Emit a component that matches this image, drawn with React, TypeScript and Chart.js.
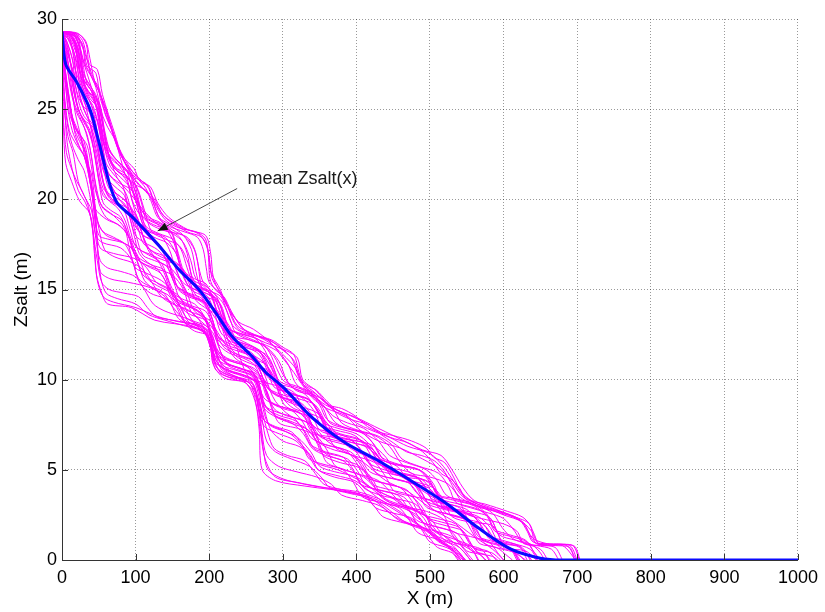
import React, { useEffect, useRef } from 'react';
import { Chart, registerables } from 'chart.js';

Chart.register(...registerables);

// ---- data ----
const xTickValues = [0, 100, 200, 300, 400, 500, 600, 700, 800, 900, 1000];
const yTickValues = [0, 5, 10, 15, 20, 25, 30];

const meanX = [0, 5, 20, 38, 50, 65, 75, 96, 128, 159, 186, 209, 231, 258, 277, 300, 340, 385, 430, 474, 520, 565, 610, 650, 680, 1000];
const meanZ = [29.3, 27.5, 26.5, 25, 23.2, 20.8, 19.8, 19, 17.6, 16.1, 15, 13.7, 12.4, 11.3, 10.4, 9.6, 7.9, 6.5, 5.5, 4.4, 3.2, 1.8, 0.6, 0.1, 0, 0];

const realizations: number[][][] = [
  [[0,29.3],[22,29.2],[33,28.6],[37,27.5],[48,27.2],[55,25.8],[72,23.6],[82,22.4],[98,21.7],[106,21],[120,20.7],[130,19.8],[145,19.0],[172,18.3],[195,18.0],[202,17.0],[206,15.6],[220,14.4],[232,13.6],[247,12.8],[268,12.2],[305,11.6],[320,11.2],[327,10.0],[345,9.4],[365,8.5],[400,7.9],[425,7.4],[455,6.8],[490,6.1],[515,5.8],[530,5.0],[545,4.0],[560,3.3],[590,2.8],[615,2.4],[635,2.0],[645,0.9],[695,0.8],[704,0]],
  [[0,27.0],[2,24],[5,22.0],[13,21.0],[24,19.9],[38,19.2],[44,17.5],[47,15.8],[54,14.8],[62,14.2],[94,14.0],[126,13.3],[180,12.9],[200,12.3],[205,10.9],[220,10.1],[250,9.8],[263,8.7],[268,7.2],[272,5.0],[290,4.4],[330,4.1],[400,3.7],[430,3.3],[474,2.2],[520,0.9],[540,0]],
  [[0,29.3],[15,29.2],[28,28.6],[34,27.4],[46,27.0],[52,25.6],[66,24.0],[78,22.6],[92,21.6],[104,20.8],[124,20.1],[138,19.1],[165,18.4],[185,18.1],[196,17.5],[200,16.8],[204,15.6],[216,14.8],[226,14.0],[238,13.0],[255,12.6],[280,12.1],[300,11.4],[318,10.6],[325,9.9],[340,9.2],[358,8.6],[380,8.2],[400,7.6],[420,7.2],[445,6.8],[470,6.3],[500,5.9],[518,5.2],[530,4.5],[545,3.6],[565,3.1],[595,2.7],[620,2.3],[638,1.6],[648,0.9],[680,0.8],[698,0]],
  [[0,29.3],[18,29.0],[30,27.5],[45,25.5],[60,23.0],[75,21.2],[95,20.2],[115,19.2],[140,18.3],[170,17.9],[182,17.0],[190,15.0],[200,14.1],[220,13.4],[232,12.6],[242,11.2],[255,10.1],[280,9.8],[315,9.3],[328,8.2],[340,7.1],[370,6.8],[410,6.5],[425,5.8],[440,5.0],[470,4.7],[500,4.3],[510,3.6],[520,3.0],[550,2.7],[580,2.4],[592,1.5],[602,0.7],[630,0.5],[645,0]],
  [[0,27.5],[4,25.5],[10,23.8],[20,23.0],[30,22.4],[38,21.0],[45,19.5],[60,18.9],[80,18.5],[95,17.6],[105,16.6],[125,16.2],[150,15.8],[165,15.0],[175,13.8],[190,13.2],[205,12.6],[215,11.6],[225,10.8],[250,10.4],[270,10.0],[280,9.0],[290,8.0],[310,7.6],[335,7.2],[350,6.3],[360,5.4],[385,5.0],[410,4.6],[430,3.8],[445,3.2],[475,2.8],[500,2.3],[515,1.5],[530,1.0],[555,0.7],[565,0]],
  [[0,29.2],[10,28.8],[20,27.6],[25,26.0],[35,25.0],[48,24.4],[55,23.0],[62,21.3],[72,20.4],[90,19.8],[105,18.6],[115,17.4],[135,16.8],[155,16.5],[170,15.8],[180,14.8],[195,14.2],[212,13.8],[222,12.6],[232,11.6],[250,11.2],[275,10.9],[290,10.0],[300,9.0],[315,8.4],[345,8.0],[365,7.4],[380,6.6],[400,6.0],[430,5.6],[455,5.2],[470,4.4],[485,3.6],[510,3.2],[540,2.9],[555,2.0],[565,1.2],[590,0.9],[610,0.6],[620,0]],
  [[0,28.4],[5,27.0],[12,25.0],[18,23.6],[25,22.8],[35,22.0],[42,20.0],[46,18.4],[52,17.3],[70,17.0],[100,16.7],[115,16.2],[128,15.4],[145,15.0],[160,14.6],[172,13.6],[185,12.9],[200,12.5],[210,11.5],[220,10.6],[245,10.2],[265,9.8],[272,8.6],[280,7.6],[300,7.2],[320,6.8],[338,6.0],[350,5.2],[370,4.9],[400,4.6],[420,4.0],[440,3.3],[460,3.0],[490,2.6],[505,1.8],[520,1.1],[540,0.7],[555,0]],
  [[0,28.0],[3,26],[6,23.5],[12,22.0],[22,20.5],[32,19.8],[40,18.8],[44,17.0],[48,15.5],[56,14.6],[70,14.3],[100,14.0],[130,13.5],[160,13.2],[185,13.0],[200,12.2],[210,11.0],[225,10.4],[245,10.0],[262,9.2],[270,8.0],[285,7.4],[310,7.0],[330,6.2],[345,5.4],[375,5.0],[400,4.5],[425,3.9],[450,3.4],[475,2.6],[500,1.8],[525,1.2],[545,0.5],[555,0]],
  [[0,29.0],[6,28.2],[12,26.5],[18,24.8],[26,23.4],[32,22.2],[40,21.4],[45,19.6],[48,17.6],[52,16.0],[65,15.6],[90,15.4],[120,15.1],[140,14.6],[155,13.8],[170,13.2],[190,13.0],[205,12.4],[212,11.2],[228,10.5],[255,10.1],[275,9.6],[285,8.5],[295,7.6],[320,7.3],[345,6.9],[360,6.1],[372,5.2],[400,4.8],[430,4.4],[450,3.6],[465,3.0],[495,2.7],[520,2.2],[530,1.4],[545,0.9],[570,0.6],[580,0]],
  [[0,29.3],[8,28.6],[18,27.2],[30,25.8],[42,24.2],[52,22.8],[62,21.2],[78,20.0],[95,19.2],[110,18.3],[128,17.5],[145,16.8],[160,16.0],[175,15.4],[190,14.6],[202,13.8],[215,13.0],[228,12.3],[245,11.6],[262,11.0],[278,10.2],[295,9.6],[310,8.8],[330,8.1],[350,7.5],[370,6.8],[395,6.2],[420,5.6],[445,5.0],[470,4.4],[495,3.7],[520,3.1],[545,2.4],[570,1.7],[592,1.0],[612,0.5],[630,0]],
  [[0,29.3],[20,29.1],[26,28.0],[30,26.4],[38,25.6],[50,25.0],[58,23.6],[66,22.0],[80,21.4],[100,20.8],[112,19.4],[122,18.2],[140,17.8],[160,17.4],[172,16.4],[180,15.2],[195,14.8],[212,14.4],[222,13.2],[230,12.2],[248,11.8],[270,11.5],[285,10.6],[295,9.6],[310,9.2],[335,8.9],[350,8.0],[362,7.0],[385,6.7],[420,6.4],[440,5.7],[455,4.8],[475,4.4],[505,4.0],[520,3.2],[530,2.4],[555,2.1],[585,1.9],[598,1.0],[610,0.5],[635,0.3],[645,0]],
  [[0,29.3],[12,29.0],[22,28.2],[28,27.0],[40,26.2],[50,25.2],[56,24.0],[64,22.4],[74,21.6],[90,21.2],[100,20.0],[108,18.8],[118,18.2],[140,17.9],[155,17.0],[165,15.8],[175,15.0],[195,14.6],[215,14.2],[225,13.0],[235,12.4],[255,12.2],[278,11.8],[295,11.0],[305,10.0],[318,9.4],[340,9.1],[358,8.4],[372,7.6],[395,7.2],[425,6.9],[445,6.3],[460,5.4],[475,4.8],[500,4.6],[525,4.2],[540,3.4],[548,2.6],[570,2.3],[600,2.0],[618,1.6],[628,0.9],[650,0.8],[670,0.7],[680,0]],
  [[0,26.8],[3,25.0],[8,23.5],[15,22.6],[22,21.0],[30,20.2],[40,19.4],[46,18.0],[55,17.6],[80,17.3],[95,16.6],[105,15.4],[120,14.8],[140,14.5],[158,14.0],[168,13.1],[180,12.7],[200,12.4],[206,11.2],[215,10.4],[235,10.0],[255,9.8],[264,8.6],[270,7.0],[276,5.6],[290,4.6],[320,4.3],[360,4.0],[400,3.8],[430,3.4],[455,2.8],[480,2.1],[505,1.4],[525,0.8],[542,0]],
  [[0,29.3],[5,28.0],[15,26.5],[22,25.0],[30,24.4],[42,24.0],[50,22.6],[56,21.0],[68,20.0],[85,19.6],[100,19.2],[110,18.0],[120,17.0],[140,16.6],[160,16.3],[172,15.4],[182,14.4],[198,13.9],[210,13.6],[218,12.8],[226,11.8],[240,11.2],[262,10.8],[280,10.5],[292,9.6],[302,8.6],[320,8.2],[345,7.8],[360,7.0],[372,6.2],[395,5.8],[425,5.4],[440,4.6],[452,3.8],[480,3.5],[505,3.2],[520,2.4],[530,1.6],[555,1.3],[580,1.0],[592,0.4],[600,0]],
  [[0,29.3],[16,29.2],[24,28.4],[28,27.0],[34,26.0],[44,25.4],[52,24.4],[58,23.0],[68,22.2],[84,21.7],[98,21.0],[108,19.8],[115,18.8],[130,18.4],[150,18.1],[165,17.6],[175,16.6],[182,15.6],[198,15.1],[210,14.6],[220,13.6],[228,12.8],[248,12.4],[270,12.0],[288,11.3],[300,10.3],[312,9.6],[330,9.3],[350,8.8],[368,8.0],[388,7.6],[410,7.3],[430,6.6],[445,5.8],[468,5.4],[495,5.0],[510,4.4],[522,3.6],[540,3.3],[565,3.0],[585,2.6],[598,1.8],[612,1.2],[630,0.9],[650,0.6],[660,0]],
  [[0,28.2],[4,27.0],[10,25.4],[16,24.2],[24,23.6],[34,23.0],[40,21.8],[46,20.4],[55,19.6],[70,19.1],[85,18.4],[92,17.2],[100,16.2],[115,15.9],[135,15.5],[150,14.9],[162,14.0],[175,13.6],[195,13.3],[208,12.6],[215,11.6],[225,10.9],[245,10.6],[265,10.3],[278,9.4],[288,8.4],[305,8.0],[330,7.7],[345,7.0],[355,6.0],[375,5.6],[400,5.3],[420,4.6],[432,3.8],[455,3.4],[480,3.1],[495,2.4],[505,1.6],[530,1.2],[555,0.8],[568,0.3],[575,0]],
  [[0,29.3],[20,29.2],[32,28.8],[38,27.8],[44,26.6],[54,25.6],[64,24.4],[74,23.2],[86,22.0],[100,21.2],[116,20.8],[128,19.6],[142,18.8],[160,18.4],[182,18.2],[195,17.8],[199,16.8],[201,15.6],[208,15.0],[220,14.6],[230,13.8],[244,12.9],[262,12.5],[285,12.2],[300,11.8],[315,11.4],[322,10.4],[330,9.6],[345,9.2],[362,8.6],[380,8.4],[398,8.0],[415,7.4],[430,7.1],[450,6.9],[475,6.6],[495,6.2],[505,5.7],[520,5.4],[532,4.6],[542,3.8],[556,3.3],[575,3.1],[605,2.7],[625,2.4],[635,2.0],[642,1.4],[648,0.9],[672,0.85],[694,0.8],[703,0]],
  [[0,29.3],[10,29.2],[18,28.6],[22,27.4],[30,26.6],[40,26.0],[48,24.8],[54,23.4],[62,22.6],[75,22.0],[88,21.2],[95,20.0],[105,19.2],[120,18.8],[140,18.4],[152,17.6],[160,16.4],[170,15.6],[185,15.2],[200,14.8],[210,13.8],[218,12.8],[232,12.4],[252,12.0],[268,11.6],[280,10.6],[292,9.8],[310,9.6],[330,9.2],[345,8.4],[356,7.6],[375,7.3],[400,7.0],[418,6.4],[432,5.6],[455,5.3],[485,5.0],[500,4.3],[512,3.6],[535,3.4],[560,3.1],[578,2.5],[588,1.7],[608,1.4],[630,1.1],[640,0.5],[650,0]],
  [[0,29.2],[6,28.4],[14,27.2],[20,26.0],[28,25.2],[38,24.8],[46,23.6],[52,22.2],[60,21.2],[72,20.7],[85,20.2],[92,19.0],[100,18.0],[112,17.6],[130,17.2],[145,16.4],[152,15.4],[165,14.9],[180,14.6],[196,14.2],[205,13.2],[212,12.2],[225,11.8],[245,11.5],[262,11.2],[272,10.2],[282,9.4],[300,9.0],[320,8.6],[335,7.8],[345,7.0],[365,6.7],[390,6.4],[405,5.7],[418,4.9],[440,4.6],[470,4.3],[485,3.6],[496,2.9],[520,2.6],[545,2.3],[558,1.5],[568,0.9],[590,0.7],[606,0.2],[612,0]],
  [[0,29.3],[12,29.1],[20,28.2],[26,26.8],[35,26.0],[46,25.6],[52,24.4],[58,22.8],[66,21.8],[80,21.2],[94,20.6],[104,19.4],[112,18.4],[125,17.9],[142,17.6],[155,17.0],[162,16.0],[172,15.2],[188,14.9],[205,14.6],[216,13.6],[225,12.6],[240,12.1],[260,11.8],[275,11.2],[284,10.2],[295,9.5],[315,9.2],[338,8.8],[352,8.0],[362,7.2],[382,6.9],[408,6.6],[425,6.0],[438,5.2],[460,4.8],[488,4.5],[502,3.8],[512,3.0],[535,2.7],[560,2.4],[576,1.8],[586,1.1],[605,0.9],[625,0.7],[636,0]],
  [[0,27.8],[5,26.2],[10,24.8],[17,24.0],[26,23.4],[33,22.4],[38,21.0],[44,19.8],[50,18.4],[58,17.2],[72,16.8],[95,16.5],[110,16.1],[122,15.4],[135,14.6],[150,14.2],[170,13.9],[185,13.4],[195,12.6],[204,11.6],[215,11.0],[235,10.7],[255,10.4],[268,9.6],[276,8.6],[290,8.0],[310,7.7],[332,7.3],[345,6.6],[355,5.8],[378,5.4],[405,5.1],[420,4.4],[432,3.6],[450,3.2],[475,2.9],[492,2.3],[503,1.5],[522,1.1],[545,0.8],[560,0.4],[566,0]],
  [[0,29.3],[8,28.9],[16,28.0],[20,26.6],[26,25.4],[34,24.6],[42,24.1],[50,23.0],[57,21.6],[64,20.6],[78,20.2],[92,19.6],[102,18.6],[110,17.6],[124,17.1],[140,16.8],[150,16.0],[158,15.0],[172,14.6],[190,14.3],[202,13.6],[210,12.6],[220,11.8],[238,11.4],[258,11.1],[270,10.4],[278,9.6],[292,9.1],[315,8.8],[330,8.3],[340,7.5],[352,6.8],[375,6.5],[400,6.2],[415,5.6],[428,4.8],[450,4.5],[478,4.2],[492,3.5],[504,2.8],[528,2.5],[552,2.2],[565,1.5],[575,0.9],[598,0.6],[615,0.4],[622,0]],
  [[0,28.6],[4,27.2],[10,25.6],[15,24.4],[22,23.6],[30,22.8],[36,21.6],[42,20.4],[46,18.8],[49,17.0],[53,15.6],[60,14.8],[75,14.5],[100,14.2],[118,13.6],[140,13.3],[165,13.0],[190,12.7],[202,12.0],[208,10.8],[222,10.3],[248,10.0],[262,9.4],[268,8.2],[275,7.4],[295,7.0],[318,6.6],[335,5.8],[348,5.0],[372,4.7],[398,4.4],[418,3.8],[438,3.2],[462,2.9],[485,2.4],[498,1.6],[515,1.0],[535,0.6],[548,0]],
  [[0,29.3],[14,29.0],[22,28.0],[26,26.6],[32,25.8],[42,25.2],[50,24.0],[56,22.4],[64,21.4],[78,20.9],[95,20.5],[105,19.6],[112,18.6],[122,17.9],[138,17.2],[150,16.6],[160,15.6],[170,14.8],[188,14.4],[206,14.0],[216,13.2],[226,12.2],[242,11.6],[262,11.3],[278,10.8],[290,9.8],[298,9.0],[318,8.6],[345,8.2],[360,7.6],[372,6.8],[395,6.5],[420,6.2],[436,5.4],[448,4.6],[470,4.3],[498,4.0],[512,3.3],[522,2.6],[545,2.3],[572,2.0],[585,1.3],[595,0.7],[615,0.5],[628,0]],
  [[0,29.3],[10,29.0],[16,27.8],[22,26.2],[30,25.0],[40,24.0],[48,22.8],[55,21.2],[62,20.2],[75,19.7],[90,19.2],[98,18.0],[105,17.0],[120,16.4],[138,16.1],[148,15.2],[158,14.4],[175,14.0],[192,13.6],[200,12.8],[206,11.8],[218,11.2],[240,10.9],[262,10.6],[274,9.8],[282,8.8],[300,8.4],[325,8.1],[340,7.4],[350,6.5],[370,6.1],[395,5.8],[410,5.0],[422,4.2],[445,3.9],[472,3.6],[488,3.0],[500,2.2],[522,1.9],[545,1.6],[556,0.9],[565,0.4],[585,0.2],[592,0]],
  [[0,29.3],[18,29.2],[28,28.8],[34,27.8],[40,26.8],[50,26.0],[60,25.0],[68,23.8],[78,22.6],[90,21.8],[104,21.2],[118,20.6],[126,19.6],[135,18.8],[150,18.3],[168,17.9],[180,17.2],[186,16.2],[192,15.4],[206,14.8],[218,14.3],[228,13.4],[236,12.6],[255,12.2],[278,11.9],[295,11.5],[308,10.8],[316,9.9],[328,9.4],[350,9.0],[368,8.4],[380,7.6],[402,7.2],[428,6.9],[448,6.4],[462,5.6],[485,5.2],[512,4.8],[526,4.0],[535,3.2],[555,2.9],[580,2.6],[600,2.3],[615,1.6],[625,1.0],[645,0.8],[665,0.6],[675,0]],
  [[0,29.0],[6,28.0],[12,26.8],[18,25.6],[24,24.8],[32,24.2],[40,23.4],[46,22.0],[52,20.8],[62,20.0],[76,19.5],[86,18.8],[94,17.8],[106,17.2],[122,16.9],[136,16.4],[145,15.4],[152,14.6],[168,14.2],[186,13.8],[198,13.2],[206,12.2],[215,11.4],[232,11.0],[252,10.7],[266,10.0],[274,9.0],[290,8.6],[312,8.3],[328,7.6],[338,6.8],[358,6.4],[385,6.1],[400,5.4],[412,4.6],[435,4.3],[460,4.0],[475,3.3],[486,2.6],[510,2.3],[535,2.0],[548,1.3],[558,0.7],[578,0.5],[590,0]],
  [[0,29.3],[16,29.1],[24,28.5],[30,27.6],[38,27.0],[46,26.2],[54,24.8],[62,24.0],[72,23.3],[80,22.2],[88,21.2],[100,20.8],[114,20.5],[124,19.8],[132,19.0],[146,18.6],[165,18.0],[176,17.2],[182,16.0],[188,15.2],[202,14.9],[216,14.6],[224,13.8],[232,13.0],[246,12.6],[266,12.4],[290,12.0],[305,11.5],[316,11.0],[322,10.2],[332,9.7],[346,9.4],[360,8.8],[374,8.3],[392,8.0],[412,7.6],[428,7.2],[446,6.8],[470,6.5],[490,6.0],[504,5.4],[515,4.8],[528,4.5],[540,4.0],[548,3.4],[562,3.0],[588,2.7],[612,2.4],[628,2.0],[638,1.2],[645,0.9],[670,0.8],[690,0.7],[696,0]],
  [[0,29.3],[6,28.8],[14,27.8],[18,26.4],[24,25.2],[30,24.6],[38,24.2],[44,23.0],[50,21.6],[56,20.6],[68,20.2],[84,19.8],[94,19.0],[102,17.8],[110,16.9],[126,16.6],[142,16.3],[152,15.4],[160,14.5],[176,14.1],[195,13.8],[205,13.0],[212,12.0],[226,11.5],[246,11.2],[262,10.8],[272,9.8],[280,8.9],[298,8.5],[322,8.2],[336,7.5],[346,6.6],[366,6.3],[392,6.0],[408,5.3],[420,4.5],[442,4.2],[468,3.9],[482,3.2],[494,2.4],[516,2.1],[540,1.8],[552,1.1],[562,0.6],[584,0.4],[596,0]],
  [[0,28.6],[4,27.4],[8,25.8],[14,24.6],[22,23.8],[30,23.2],[36,22.0],[40,20.6],[44,19.2],[50,18.0],[62,17.8],[82,17.6],[98,17.2],[108,16.4],[116,15.6],[130,15.2],[148,14.8],[162,14.0],[172,13.2],[188,12.9],[200,12.6],[208,11.6],[218,10.8],[238,10.5],[258,10.2],[268,9.4],[275,8.4],[292,7.9],[312,7.6],[328,7.0],[340,6.2],[358,5.8],[382,5.5],[398,4.8],[410,4.0],[432,3.6],[458,3.3],[474,2.6],[485,1.9],[508,1.6],[530,1.3],[542,0.8],[552,0.3],[558,0]],
  [[0,29.3],[12,29.1],[22,28.4],[26,27.2],[32,26.2],[42,25.6],[50,24.6],[56,23.2],[64,22.2],[76,21.6],[88,21.0],[96,19.8],[104,18.8],[116,18.3],[134,18.0],[146,17.2],[154,16.2],[164,15.4],[180,15.0],[198,14.6],[208,13.6],[216,12.6],[230,12.1],[250,11.8],[268,11.4],[280,10.4],[288,9.6],[305,9.3],[326,9.0],[342,8.3],[352,7.5],[372,7.2],[398,6.9],[414,6.2],[426,5.4],[448,5.1],[476,4.8],[492,4.1],[502,3.4],[526,3.1],[550,2.8],[566,2.1],[576,1.4],[598,1.1],[620,0.8],[632,0.3],[638,0]],
  [[0,26.2],[2,24.4],[6,22.6],[12,21.8],[20,21.0],[28,20.4],[36,19.6],[42,18.2],[48,16.6],[54,15.4],[64,15.0],[84,14.8],[104,14.6],[116,14.0],[128,13.5],[150,13.3],[175,13.1],[195,12.8],[202,11.8],[208,10.6],[222,10.2],[244,10.0],[260,9.7],[266,8.6],[270,7.4],[274,6.0],[280,5.0],[300,4.5],[330,4.2],[370,3.9],[405,3.6],[430,3.2],[450,2.6],[470,2.0],[495,1.6],[512,1.0],[530,0.6],[545,0]],
  [[0,29.3],[8,28.4],[14,27.0],[20,25.4],[28,24.4],[36,23.8],[44,22.6],[50,21.0],[56,19.8],[66,19.4],[80,19.0],[90,18.0],[98,17.0],[110,16.6],[128,16.2],[140,15.5],[148,14.6],[162,14.2],[180,13.9],[194,13.4],[202,12.4],[210,11.4],[225,10.9],[245,10.6],[262,10.2],[270,9.2],[278,8.4],[296,8.0],[318,7.7],[332,7.0],[342,6.2],[362,5.9],[388,5.6],[402,4.9],[414,4.1],[438,3.8],[464,3.5],[478,2.8],[490,2.1],[512,1.8],[536,1.5],[548,0.9],[558,0.5],[575,0.3],[582,0]],
  [[0,29.3],[14,29.2],[22,28.6],[28,27.6],[34,26.4],[44,25.8],[52,25.2],[58,23.8],[66,22.6],[78,22.0],[92,21.4],[100,20.4],[108,19.4],[118,18.9],[136,18.6],[150,18.1],[158,17.0],[166,16.0],[180,15.6],[196,15.3],[206,14.4],[214,13.4],[226,12.8],[246,12.5],[268,12.2],[282,11.5],[292,10.6],[302,9.9],[322,9.6],[342,9.2],[355,8.4],[364,7.6],[385,7.3],[410,7.0],[426,6.3],[438,5.5],[462,5.2],[490,4.9],[505,4.2],[515,3.4],[540,3.1],[566,2.8],[584,2.2],[594,1.4],[616,1.1],[636,0.9],[648,0.5],[656,0]],
  [[0,28.0],[4,26.8],[8,25.0],[14,23.8],[22,23.0],[30,22.4],[36,21.4],[42,20.0],[48,18.8],[56,18.2],[70,17.9],[86,17.5],[96,16.6],[104,15.6],[118,15.2],[136,14.9],[148,14.2],[158,13.4],[174,13.0],[192,12.7],[200,12.0],[207,11.0],[222,10.6],[244,10.3],[260,10.0],[268,9.0],[274,7.8],[290,7.4],[312,7.1],[326,6.4],[336,5.6],[356,5.3],[382,5.0],[396,4.3],[408,3.5],[432,3.2],[458,2.9],[472,2.2],[484,1.5],[506,1.2],[528,0.9],[540,0.4],[548,0]],
  [[0,29.3],[10,29.1],[18,28.4],[24,27.0],[32,26.0],[40,25.2],[46,24.2],[52,22.6],[60,21.6],[72,21.0],[86,20.4],[94,19.4],[102,18.4],[114,17.9],[130,17.6],[142,16.9],[150,15.8],[160,15.0],[176,14.6],[194,14.3],[204,13.4],[212,12.4],[226,11.9],[246,11.6],[264,11.2],[276,10.2],[284,9.4],[302,9.0],[325,8.7],[340,8.0],[350,7.2],[370,6.9],[395,6.6],[410,5.9],[422,5.1],[444,4.8],[472,4.5],[488,3.8],[498,3.1],[520,2.8],[546,2.5],[562,1.8],[572,1.1],[594,0.8],[612,0.6],[620,0]],
  [[0,29.2],[8,28.0],[18,26.8],[30,25.5],[40,23.8],[48,22.5],[60,20.4],[80,19.6],[100,18.9],[115,17.5],[130,16.6],[150,16.1],[168,15.0],[180,13.8],[200,13.3],[215,12.4],[235,11.2],[255,10.7],[275,10.0],[290,8.8],[310,8.0],[340,7.5],[360,6.6],[385,6.0],[410,5.4],[440,4.4],[470,3.8],[500,2.9],[530,2.2],[560,1.3],[585,0.6],[600,0]],
  [[0,29.3],[20,29.0],[30,28.2],[40,27.0],[50,26.0],[62,24.6],[75,23.0],[92,21.5],[110,20.6],[125,19.9],[140,19.0],[170,18.2],[190,17.9],[198,17.2],[200,16.6],[203,15.9],[215,15.0],[225,14.0],[240,13.2],[260,12.8],[285,12.0],[300,11.2],[315,10.4],[325,9.8],[340,9.0],[360,8.4],[385,8.0],[405,7.2],[430,6.6],[460,6.2],[490,5.6],[515,5.0],[530,4.3],[545,3.5],[570,3.0],[600,2.5],[625,2.1],[640,1.2],[660,0.9],[690,0.8],[700,0]],
  [[0,28.8],[6,27.6],[12,26.0],[20,24.8],[30,24.0],[38,22.8],[44,21.2],[50,19.8],[60,19.0],[76,18.6],[90,18.0],[100,16.8],[110,15.8],[128,15.4],[146,15.0],[158,14.2],[170,13.4],[188,13.0],[200,12.6],[208,11.6],[216,10.6],[234,10.2],[256,9.9],[266,9.0],[272,7.8],[278,6.6],[290,6.0],[312,5.6],[336,5.2],[352,4.6],[364,4.0],[390,3.7],[420,3.4],[440,2.8],[458,2.2],[482,1.9],[505,1.5],[518,0.9],[536,0.5],[546,0]],
  [[0,29.3],[10,29.0],[20,28.0],[26,26.8],[36,26.0],[48,25.4],[56,24.0],[62,22.6],[72,21.8],[86,21.4],[98,20.6],[106,19.4],[114,18.5],[132,18.1],[150,17.8],[162,17.2],[170,16.2],[178,15.4],[194,15.0],[208,14.5],[218,13.4],[226,12.4],[242,12.0],[262,11.7],[280,11.3],[290,10.4],[298,9.6],[316,9.2],[336,8.9],[350,8.1],[358,7.4],[378,7.0],[404,6.7],[420,6.1],[432,5.3],[454,4.9],[482,4.6],[496,3.9],[506,3.1],[530,2.8],[556,2.5],[570,1.9],[580,1.2],[600,0.9],[622,0.7],[632,0]],
  [[0,29.0],[5,27.8],[12,26.2],[18,25.2],[26,24.4],[34,23.6],[40,22.4],[46,20.8],[54,19.6],[66,19.2],[82,18.8],[92,17.8],[100,16.8],[116,16.3],[134,15.9],[146,15.0],[156,14.2],[172,13.8],[190,13.5],[200,12.8],[208,11.8],[220,11.0],[242,10.6],[262,10.3],[270,9.4],[276,8.2],[284,7.2],[300,6.6],[322,6.3],[338,5.8],[348,5.0],[370,4.6],[398,4.3],[414,3.6],[426,2.9],[450,2.6],[476,2.3],[490,1.6],[500,1.0],[522,0.7],[540,0.3],[548,0]],
  [[0,29.3],[14,29.1],[22,28.3],[28,27.2],[36,26.4],[46,25.8],[54,24.6],[60,23.2],[70,22.4],[84,21.8],[96,21.2],[104,20.0],[110,19.0],[124,18.6],[144,18.3],[160,17.9],[170,17.0],[176,15.8],[186,15.1],[202,14.8],[214,14.2],[222,13.0],[230,12.3],[248,12.0],[270,11.6],[286,10.8],[294,9.8],[304,9.2],[325,8.9],[344,8.6],[356,7.8],[364,6.9],[386,6.6],[412,6.3],[430,5.7],[444,4.9],[466,4.6],[494,4.4],[508,3.8],[518,3.0],[542,2.7],[566,2.4],[582,1.8],[592,1.1],[614,0.9],[636,0.6],[646,0]],
  [[0,28.4],[4,27.0],[10,25.2],[16,24.0],[24,23.2],[32,22.6],[38,21.4],[44,19.8],[50,18.6],[60,18.0],[78,17.7],[94,17.3],[104,16.4],[112,15.5],[126,15.0],[144,14.7],[156,14.0],[166,13.2],[182,12.9],[198,12.5],[205,11.5],[212,10.6],[230,10.2],[252,9.9],[264,9.2],[272,8.2],[280,7.0],[288,6.2],[306,5.8],[330,5.5],[344,4.8],[356,4.2],[380,3.9],[408,3.6],[424,3.0],[436,2.4],[460,2.1],[486,1.8],[500,1.2],[510,0.7],[530,0.4],[538,0]],
  [[0,29.3],[8,29.0],[16,28.2],[22,27.0],[30,26.0],[38,25.4],[46,24.6],[54,23.2],[60,22.0],[70,21.4],[82,20.8],[90,19.6],[98,18.6],[110,18.0],[126,17.7],[138,17.0],[146,16.0],[156,15.2],[172,14.8],[190,14.5],[200,13.6],[208,12.6],[222,12.1],[242,11.8],[260,11.4],[270,10.4],[278,9.6],[296,9.2],[318,8.9],[332,8.2],[342,7.4],[362,7.1],[388,6.8],[404,6.2],[416,5.4],[438,5.0],[466,4.7],[482,4.0],[492,3.3],[514,3.0],[540,2.7],[556,2.0],[566,1.3],[588,1.0],[608,0.7],[618,0]],
  [[0,29.3],[18,29.2],[28,28.5],[32,27.4],[40,26.8],[50,26.2],[58,24.8],[68,23.8],[78,22.8],[90,21.9],[102,21.2],[114,20.6],[122,19.8],[130,19.0],[146,18.5],[166,18.2],[184,17.9],[192,17.2],[196,16.2],[200,15.4],[212,14.9],[222,14.4],[230,13.5],[240,12.8],[258,12.5],[282,12.2],[298,11.7],[312,11.2],[320,10.3],[326,9.8],[340,9.4],[356,8.8],[372,8.2],[392,7.8],[416,7.5],[432,7.0],[450,6.5],[468,6.0],[488,5.8],[506,5.5],[518,5.0],[528,4.3],[538,3.6],[552,3.2],[574,2.9],[600,2.6],[622,2.2],[632,1.6],[640,1.0],[662,0.9],[686,0.8],[699,0]],
  [[0,29.3],[6,28.6],[12,27.4],[16,26.0],[22,25.0],[30,24.4],[38,23.8],[44,22.6],[50,21.2],[56,20.2],[70,19.8],[84,19.4],[92,18.4],[100,17.4],[114,17.0],[130,16.6],[140,15.8],[148,14.9],[162,14.5],[180,14.2],[192,13.6],[200,12.8],[208,11.8],[224,11.2],[244,10.9],[258,10.5],[266,9.6],[274,8.6],[292,8.2],[314,7.9],[328,7.2],[338,6.4],[358,6.0],[382,5.7],[396,5.0],[406,4.2],[430,3.9],[456,3.6],[470,2.9],[482,2.2],[504,1.9],[528,1.6],[540,1.0],[550,0.5],[568,0.3],[576,0]],
  [[0,27.2],[3,25.6],[8,24.0],[14,23.0],[22,22.2],[30,21.6],[36,20.6],[42,19.2],[46,17.8],[52,16.6],[62,16.2],[80,16.0],[100,15.7],[112,15.0],[124,14.2],[140,13.8],[162,13.5],[182,13.2],[198,12.9],[204,12.0],[210,11.0],[226,10.5],[250,10.2],[262,9.6],[268,8.4],[272,7.0],[278,5.8],[294,5.2],[318,4.9],[346,4.6],[366,4.2],[380,3.6],[408,3.3],[432,3.0],[452,2.4],[474,2.0],[496,1.7],[510,1.1],[528,0.7],[542,0]],
  [[0,29.3],[10,29.2],[18,28.7],[24,27.8],[30,26.6],[40,26.0],[48,25.0],[54,23.6],[62,22.8],[74,22.2],[88,21.6],[96,20.4],[104,19.6],[118,19.0],[134,18.7],[148,18.2],[156,17.2],[162,16.2],[174,15.6],[192,15.2],[204,14.6],[212,13.6],[222,12.9],[240,12.6],[262,12.3],[276,11.6],[286,10.6],[296,9.9],[316,9.6],[336,9.3],[350,8.6],[360,7.8],[380,7.4],[406,7.1],[422,6.5],[434,5.7],[458,5.3],[486,5.0],[500,4.4],[510,3.6],[534,3.3],[560,3.0],[578,2.4],[588,1.6],[610,1.3],[632,1.0],[642,0.4],[650,0]],
];

const annotationText = 'mean Zsalt(x)';
const annotationTextAt = [252, 21.1];
const arrowFrom = [238, 20.6];
const arrowTo = [130, 18.25];

const FONT = '"Liberation Sans", Arial, Helvetica, sans-serif';

const axesPlugin = {
  id: 'matlabAxes',
  afterDatasetsDraw(chart: any) {
    const { ctx, chartArea, scales } = chart;
    const xs = scales.x;
    const ys = scales.y;
    ctx.save();
    ctx.strokeStyle = '#333';
    ctx.lineWidth = 1;
    ctx.beginPath();
    ctx.moveTo(chartArea.left + 0.5, chartArea.top);
    ctx.lineTo(chartArea.left + 0.5, chartArea.bottom + 0.5);
    ctx.lineTo(chartArea.right, chartArea.bottom + 0.5);
    ctx.stroke();
    ctx.beginPath();
    for (const v of xTickValues) {
      const px = Math.round(xs.getPixelForValue(v)) + 0.5;
      ctx.moveTo(px, chartArea.bottom);
      ctx.lineTo(px, chartArea.bottom - 6);
    }
    for (const v of yTickValues) {
      const py = Math.round(ys.getPixelForValue(v)) + 0.5;
      ctx.moveTo(chartArea.left, py);
      ctx.lineTo(chartArea.left + 6, py);
    }
    ctx.stroke();

    // annotation
    ctx.fillStyle = '#1a1a1a';
    ctx.font = '18px ' + FONT;
    ctx.textAlign = 'left';
    ctx.textBaseline = 'middle';
    ctx.fillText(annotationText, xs.getPixelForValue(annotationTextAt[0]), ys.getPixelForValue(annotationTextAt[1]));

    const x1 = xs.getPixelForValue(arrowFrom[0]);
    const y1 = ys.getPixelForValue(arrowFrom[1]);
    const x2 = xs.getPixelForValue(arrowTo[0]);
    const y2 = ys.getPixelForValue(arrowTo[1]);
    ctx.strokeStyle = '#444';
    ctx.lineWidth = 1;
    ctx.beginPath();
    ctx.moveTo(x1, y1);
    ctx.lineTo(x2, y2);
    ctx.stroke();
    const ang = Math.atan2(y2 - y1, x2 - x1);
    const hl = 10;
    const hw = 4;
    ctx.fillStyle = '#111';
    ctx.beginPath();
    ctx.moveTo(x2, y2);
    ctx.lineTo(x2 - hl * Math.cos(ang) + hw * Math.sin(ang), y2 - hl * Math.sin(ang) - hw * Math.cos(ang));
    ctx.lineTo(x2 - hl * Math.cos(ang) - hw * Math.sin(ang), y2 - hl * Math.sin(ang) + hw * Math.cos(ang));
    ctx.closePath();
    ctx.fill();
    ctx.restore();
  },
};

export default function App() {
  const canvasRef = useRef<HTMLCanvasElement | null>(null);

  useEffect(() => {
    if (!canvasRef.current) return;
    const datasets: any[] = [
      {
        label: 'mean Zsalt(x)',
        data: meanX.map((x, i) => ({ x, y: meanZ[i] })),
        borderColor: '#0a0aff',
        borderWidth: 3,
        pointRadius: 0,
        tension: 0.3,
        fill: false,
      },
      ...realizations.map((r, k) => ({
        label: 'realization ' + (k + 1),
        data: r.map(([x, z]) => ({ x, y: z })),
        borderColor: '#ff00ff',
        borderWidth: 1,
        pointRadius: 0,
        tension: 0.3,
        fill: false,
      })),
    ];

    const chart = new Chart(canvasRef.current, {
      type: 'line',
      data: { datasets },
      plugins: [axesPlugin],
      options: {
        animation: false,
        responsive: false,
        devicePixelRatio: 1,
        layout: { padding: { top: 19, right: 23, left: 0, bottom: 0 } },
        plugins: { legend: { display: false }, tooltip: { enabled: false } },
        scales: {
          x: {
            type: 'linear',
            min: 0,
            max: 1000,
            afterBuildTicks: (s: any) => { s.ticks = xTickValues.map((v) => ({ value: v })); },
            afterFit: (s: any) => { s.height = 52; },
            ticks: { font: { size: 18, family: FONT }, color: '#000', padding: 7, maxRotation: 0, callback: (v: any) => String(v) },
            grid: { color: 'rgba(0,0,0,0.4)', lineWidth: 1, drawTicks: false },
            border: { display: false, dash: [1, 2] },
            title: { display: true, text: 'X (m)', font: { size: 19, family: FONT }, color: '#000', padding: { top: 0, bottom: 2 } },
          },
          y: {
            type: 'linear',
            min: 0,
            max: 30,
            afterBuildTicks: (s: any) => { s.ticks = yTickValues.map((v) => ({ value: v })); },
            afterFit: (s: any) => { s.width = 62; },
            ticks: { font: { size: 18, family: FONT }, color: '#000', padding: 5, callback: (v: any) => String(v) },
            grid: { color: 'rgba(0,0,0,0.4)', lineWidth: 1, drawTicks: false },
            border: { display: false, dash: [1, 2] },
            title: { display: true, text: 'Zsalt (m)', font: { size: 19, family: FONT }, color: '#000', padding: { top: 10, bottom: 0 } },
          },
        },
      },
    });
    return () => chart.destroy();
  }, []);

  return (
    <div style={{ position: 'absolute', left: 0, top: 0, width: 825, height: 612, background: '#fff' }}>
      <canvas ref={canvasRef} width={825} height={612} style={{ display: 'block' }} />
    </div>
  );
}
